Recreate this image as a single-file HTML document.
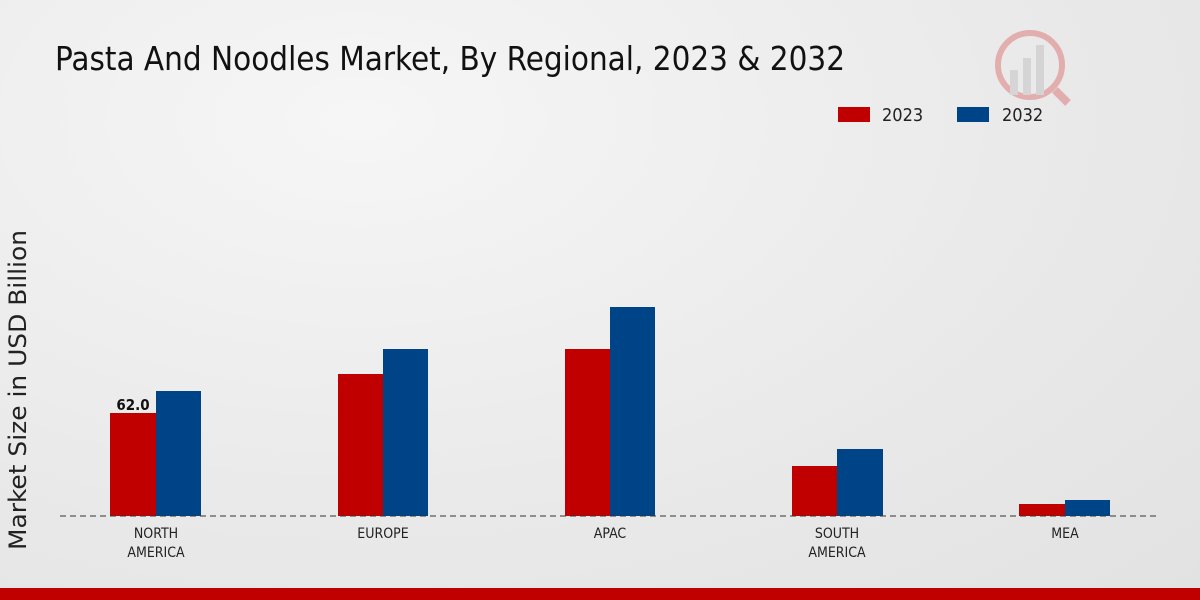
<!DOCTYPE html>
<html><head><meta charset="utf-8"><style>
html,body{margin:0;padding:0}
body{width:1200px;height:600px;overflow:hidden;background:radial-gradient(ellipse at 30% 20%,#f6f6f6 0%,#e9e9e9 60%,#e2e2e2 100%);font-family:"DejaVu Sans Condensed","DejaVu Sans","Liberation Sans",sans-serif;position:relative}
</style></head><body>
<svg width="1200" height="600" xmlns="http://www.w3.org/2000/svg" style="position:absolute;left:0;top:0;font-family:'DejaVu Sans Condensed','DejaVu Sans',sans-serif">
<text x="55" y="70" font-size="33" fill="#111" textLength="790" lengthAdjust="spacingAndGlyphs">Pasta And Noodles Market, By Regional, 2023 &amp; 2032</text>
<g opacity="0.25">
<circle cx="1030" cy="65" r="32" fill="none" stroke="#c00" stroke-width="6"/>
<rect x="1010" y="70" width="8" height="25" fill="#999"/><rect x="1023" y="58" width="8" height="37" fill="#999"/><rect x="1036" y="45" width="8" height="50" fill="#999"/>
<line x1="1055" y1="90" x2="1068" y2="103" stroke="#c00" stroke-width="8"/>
</g>
<rect x="838" y="107" width="32" height="15" fill="#c00000"/>
<text x="882" y="121" font-size="18" fill="#222">2023</text>
<rect x="957" y="107" width="32" height="15" fill="#004488"/>
<text x="1002" y="121" font-size="18" fill="#222">2032</text>
<text transform="translate(26,390) rotate(-90)" font-size="24" fill="#222" text-anchor="middle" textLength="320" lengthAdjust="spacingAndGlyphs">Market Size in USD Billion</text>
<g>
<rect x="110" y="413" width="46" height="103" fill="#c00000"/><rect x="156" y="391" width="45" height="125" fill="#004488"/>
<rect x="338" y="374" width="45" height="142" fill="#c00000"/><rect x="383" y="349" width="45" height="167" fill="#004488"/>
<rect x="565" y="349" width="45" height="167" fill="#c00000"/><rect x="610" y="307" width="45" height="209" fill="#004488"/>
<rect x="792" y="466" width="45" height="50" fill="#c00000"/><rect x="837" y="449" width="46" height="67" fill="#004488"/>
<rect x="1019" y="504" width="46" height="12" fill="#c00000"/><rect x="1065" y="500" width="45" height="16" fill="#004488"/>
</g>
<line x1="60" y1="516" x2="1160" y2="516" stroke="#333" stroke-width="1" stroke-dasharray="6,4"/>
<text x="133" y="410" font-size="15" font-weight="bold" fill="#111" text-anchor="middle">62.0</text>
<g font-size="14" fill="#222" text-anchor="middle">
<text x="156" y="538">NORTH</text><text x="156" y="557">AMERICA</text>
<text x="383" y="538">EUROPE</text>
<text x="610" y="538">APAC</text>
<text x="837" y="538">SOUTH</text><text x="837" y="557">AMERICA</text>
<text x="1065" y="538">MEA</text>
</g>
<rect x="0" y="588" width="1200" height="12" fill="#c00000"/>
</svg>
</body></html>
